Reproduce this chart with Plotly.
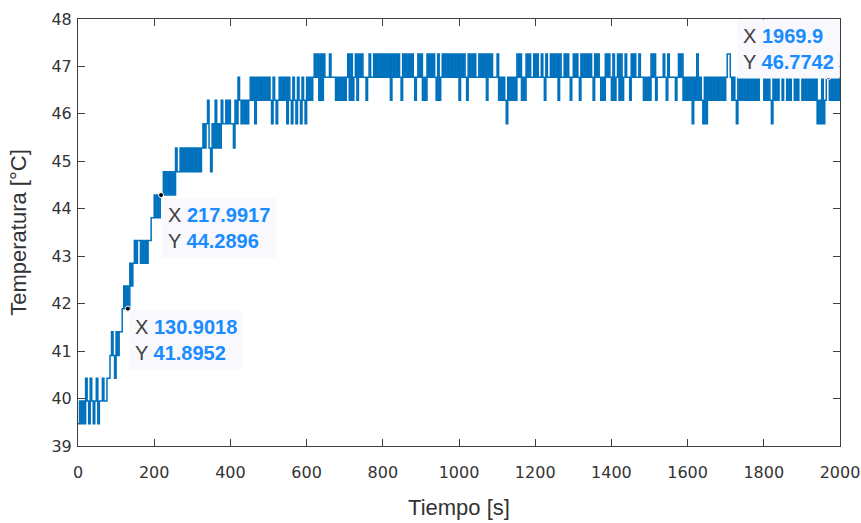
import numpy as np
import plotly.graph_objects as go

# Quantised sensor levels (°C); index 0..16 -> code characters '0'-'9','a'-'g'
levels = [39.47, 39.95, 40.43, 40.91, 41.41, 41.8952, 42.37, 42.85, 43.33,
          43.81, 44.2896, 44.78, 45.28, 45.79, 46.29, 46.7742, 47.26]

sample_period = 4  # seconds between logged samples

# Logged level index for every sample, in time order
level_codes = "".join([
    "010102102101201", "12112", "2", "3432434", "45", "6565", "767",
    "8788787878", "899a9a9a", "ababababa", "cbbcbcbcbcbcbcbcbc",
    "dcdecbdcecdc", "eddededdce", "dfededede", "fefdfefefefefedf",
    "edefe", "fefdfedfedfedfedfefef", "gfgegegfffg", "fff", "efefefe",
    "fgegefgegfgffe", "fgffgfgfgfgfgfgegfgfgfegf",
    "gfgfgfefgfgefegfgfgfeg",
    "efgfgfgfgfgfgegfgfegfgfgffgfgfgegfgfff",
    "gefefedfefefe", "gfgefegfgffgfgffgfegff",
    "gfgfgegffg", "fgfefgfgfe", "gfgfgfgfeg", "fgfefegfgf", "egefgegefg",
    "ffegfgffgf", "fefefegfge", "ffffgfegff", "ffefgfg",
    "efefefdfegef", "edfdfefefefefefefgg",
    "fefedfefef", "efefefefef", "ffefefedfe", "fe",
    "ffeff", "efeffefeffefefefefef", "dedfde", "ffefegegef",
])

# Data tips shown on the curve
tip_x = ["130.9018", "217.9917", "1969.9"]
tip_y = ["41.8952", "44.2896", "46.7742"]

x_ticks = list(range(0, 2001, 200))
y_ticks = list(range(39, 49))

temperature = [levels[int(c, 17)] for c in level_codes]
time_s = np.arange(len(temperature)) * sample_period

fig = go.Figure()
fig.add_trace(go.Scatter(
    x=time_s, y=temperature, mode="lines",
    line=dict(color="#0072BD", width=1.5, shape="hv"),
    hoverinfo="skip", showlegend=False,
))
fig.add_trace(go.Scatter(
    x=[float(v) for v in tip_x], y=[float(v) for v in tip_y], mode="markers",
    marker=dict(size=5, color="black", line=dict(color="white", width=1)),
    hoverinfo="skip", showlegend=False,
))

value_color = "#1a8cff"
label_color = "#404040"
placements = [
    dict(xanchor="left", yanchor="top", xshift=1, yshift=-1),
    dict(xanchor="left", yanchor="top", xshift=1, yshift=-3),
    dict(xanchor="right", yanchor="bottom", xshift=11, yshift=-2),
]
for xs, ys, pl in zip(tip_x, tip_y, placements):
    text = (f"<span style='color:{label_color}'>X</span> <b>{xs}</b><br>"
            f"<span style='color:{label_color}'>Y</span> <b>{ys}</b>")
    fig.add_annotation(
        x=float(xs), y=float(ys), xref="x", yref="y", text=text,
        showarrow=False, align="left", bgcolor="#f8f8fd", borderpad=5,
        font=dict(family="Liberation Sans, Arial, sans-serif", size=20,
                  color=value_color),
        **pl,
    )

axis_common = dict(
    showline=True, linecolor="#404040", linewidth=1, mirror="ticks",
    ticks="inside", ticklen=7, tickcolor="#404040", tickwidth=1,
    showgrid=False, zeroline=False, automargin=False,
    tickfont=dict(family="DejaVu Sans, sans-serif", size=16, color="#333333"),
    title_font=dict(family="Liberation Sans, Arial, sans-serif", size=22,
                    color="#333333"),
)

fig.update_xaxes(range=[0, 2000], tickvals=x_ticks, ticklabelstandoff=12,
                 title_text="Tiempo [s]", title_standoff=18, **axis_common)
fig.update_yaxes(range=[39, 48], tickvals=y_ticks, ticklabelstandoff=2,
                 title_text="Temperatura [°C]", title_standoff=18,
                 **axis_common)

fig.update_layout(
    width=861, height=523,
    margin=dict(l=78, r=21, t=19, b=77),
    paper_bgcolor="white", plot_bgcolor="white",
)

fig.write_html("out.html")
